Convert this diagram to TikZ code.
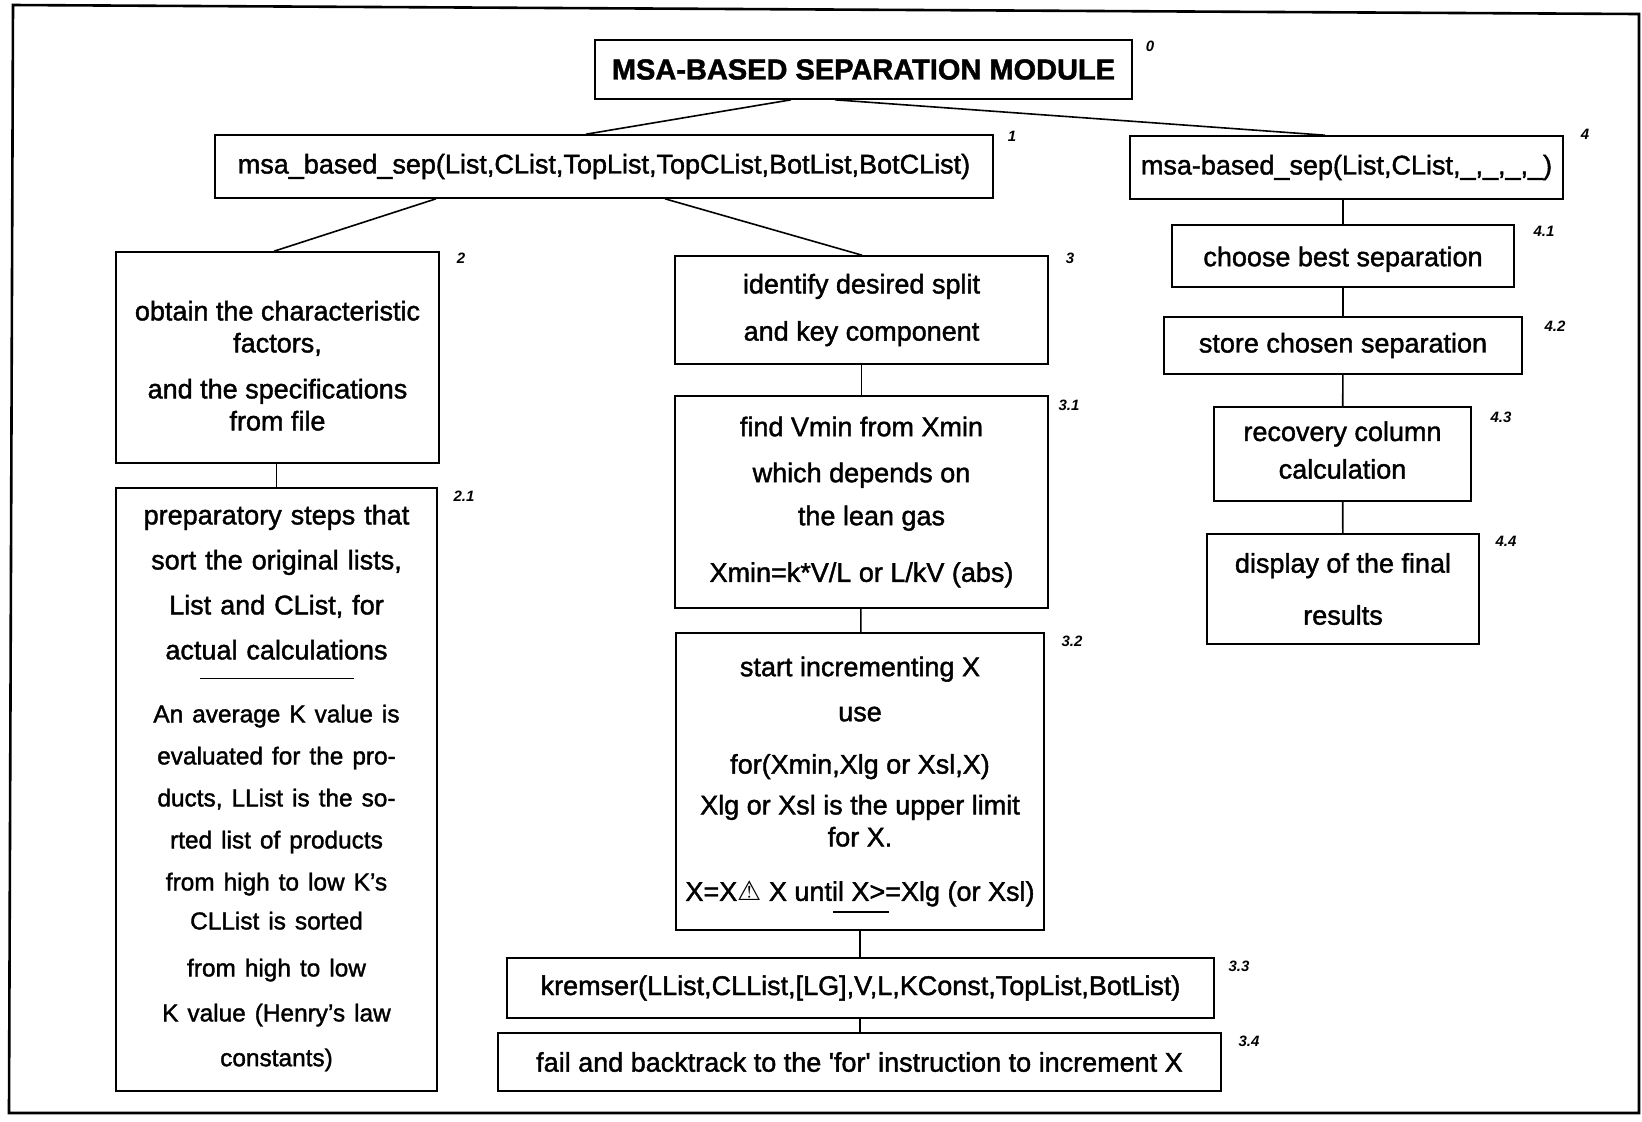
\documentclass[tikz,border=0pt]{standalone}
\usepackage{fontspec}
\usepackage{tikz}
\setmainfont{Liberation Sans}
\newfontfamily\scanfont{Liberation Sans}[Ligatures=TeX, FakeBold=1.5]
\newfontfamily\warnfont{DejaVu Sans}
\setlength{\parindent}{0pt}
\newcommand{\boxfont}{\scanfont\fontsize{13.5}{16}\selectfont}
\newcommand{\notefont}{\fontsize{12.2}{14.5}\selectfont}
\newcommand{\headfont}{\scanfont\fontsize{14.5}{17}\selectfont\bfseries}
\newcommand{\tagfont}{\fontsize{7.5}{9}\selectfont\bfseries\itshape}
\tikzset{
  stepbox/.style={draw, line width=0.8pt, inner sep=0pt, align=center, font=\boxfont},
  boxwh/.style 2 args={minimum width=#1*0.5pt, minimum height=#2*0.5pt},
  tag/.style={font=\tagfont, inner sep=0pt},
  link/.style={line width=0.8pt}
}

\begin{document}
\begin{tikzpicture}[x=0.5pt, y=-0.5pt]
  \useasboundingbox (0,0) rectangle (1642,1121);
  \draw [line width=1.3pt] (13,5) -- (1639,14) -- (1639,1113) -- (9,1113) -- cycle;

  \node (b0) at (863.5,69.5) [stepbox, boxwh={537}{59}, font=\headfont] {MSA-BASED SEPARATION MODULE};
  \node (b1) at (604,166.5) [stepbox, boxwh={778}{63}] {msa\_based\_sep(List,CList,TopList,TopCList,BotList,BotCList)};
  \node (b4) at (1346.5,167.5) [stepbox, boxwh={433}{63}] {msa-based\_sep(List,CList,\_,\_,\_,\_)};

  \node (b2) at (277.5,357.5) [stepbox, boxwh={323}{211}]
    {\rule{0pt}{18pt}obtain the characteristic\\factors,\\[7pt]and the specifications\\from file};
  \node (b21) at (276.5,789.5) [stepbox, boxwh={321}{603}, text width=152pt]
    {preparatory steps that\\[6.5pt]sort the original lists,\\[6.5pt]List and CList, for\\[6.5pt]actual calculations\par
     \vspace{-6pt}\rule{77pt}{0.6pt}\par\vspace{7pt}
     \notefont An average K value is\\[6.5pt]evaluated for the pro-\\[6.5pt]ducts, LList is the so-\\[6.5pt]rted list of products\\[6.5pt]from high to low K's\\[5pt]CLList is sorted\\[9pt]from high to low\\[8pt]K value (Henry's law\\[6.4pt]constants)\rule[-4pt]{0pt}{4pt}};

  \node (b3) at (861.5,310) [stepbox, boxwh={373}{108}] {identify desired split\\[7.6pt]and key component};
  \node (b31) at (861.5,502) [stepbox, boxwh={373}{212}]
    {find Vmin from Xmin\\[7pt]which depends on\\[5.5pt]\hspace*{10pt}the lean gas\\[12.3pt]Xmin=k*V/L or L/kV (abs)};
  \node (b32) at (860,781.5) [stepbox, boxwh={368}{297}]
    {start incrementing X\\[6.5pt]use\\[10.2pt]for(Xmin,Xlg or Xsl,X)\\[4.4pt]Xlg or Xsl is the upper limit\\for X.\\[11.2pt]X=X{\warnfont ⚠} X until X>=Xlg (or Xsl)};
  \node (b33) at (860.5,988) [stepbox, boxwh={707}{60}] {kremser(LList,CLList,[LG],V,L,KConst,TopList,BotList)};
  \node (b34) at (859.5,1062) [stepbox, boxwh={723}{58}] {fail and backtrack to the \textquotesingle for\textquotesingle\ instruction to increment X};

  \node (b41) at (1343,256) [stepbox, boxwh={342}{62}] {\rule{0pt}{13pt}choose best separation};
  \node (b42) at (1343,345.5) [stepbox, boxwh={358}{57}] {store chosen separation};
  \node (b43) at (1342.5,454) [stepbox, boxwh={257}{94}] {recovery column\\[2.8pt]calculation\rule[-4pt]{0pt}{4pt}};
  \node (b44) at (1343,589) [stepbox, boxwh={272}{110}] {display of the final\\[10pt]results};

  \draw [link] (833,912) -- (889,912);

  \draw [link] (b0.south -| 791,0) -- (b1.north -| 586,0);
  \draw [link] (b0.south -| 835,0) -- (b4.north -| 1325,0);
  \draw [link] (b1.south -| 436,0) -- (b2.north -| 274,0);
  \draw [link] (b1.south -| 665,0) -- (b3.north -| 862,0);
  \draw [link] (b2.south -| b21.north) -- (b21.north);
  \draw [link] (b3) -- (b31);
  \draw [link] (b31) -- (b32);
  \draw [link] (b32.south) -- (b33.north -| b32.south);
  \draw [link] (b33.south -| b32.south) -- (b34.north -| b32.south);
  \draw [link] (b4.south -| b41.north) -- (b41.north);
  \draw [link] (b41) -- (b42);
  \draw [link] (b42) -- (b43);
  \draw [link] (b43) -- (b44);

  \node (t0) at (1150,46) [tag] {0};
  \node (t1) at (1012,136) [tag] {1};
  \node (t4) at (1585,134) [tag] {4};
  \node (t2) at (461,258) [tag] {2};
  \node (t21) at (464,496) [tag] {2.1};
  \node (t3) at (1070,258) [tag] {3};
  \node (t31) at (1069,405) [tag] {3.1};
  \node (t32) at (1072,641) [tag] {3.2};
  \node (t33) at (1239,966) [tag] {3.3};
  \node (t34) at (1249,1041) [tag] {3.4};
  \node (t41) at (1544,231) [tag] {4.1};
  \node (t42) at (1555,326) [tag] {4.2};
  \node (t43) at (1501,417) [tag] {4.3};
  \node (t44) at (1506,541) [tag] {4.4};
\end{tikzpicture}
\end{document}
